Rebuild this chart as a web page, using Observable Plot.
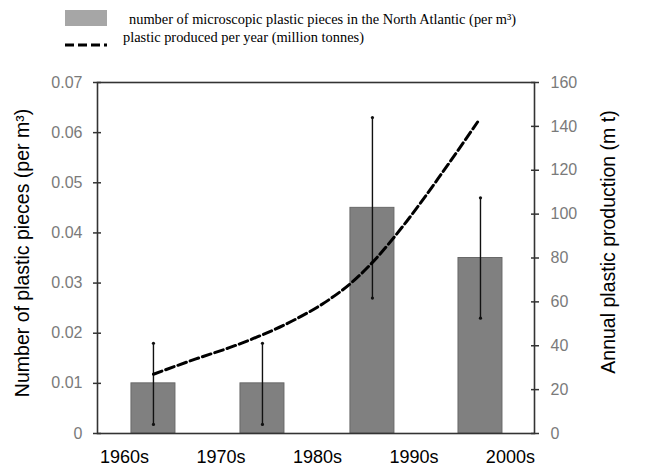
<!DOCTYPE html>
<html>
<head>
<meta charset="utf-8">
<script src="https://cdn.jsdelivr.net/npm/d3@7"></script>
<script src="https://cdn.jsdelivr.net/npm/@observablehq/plot@0.6"></script>
<style>
  html, body { margin: 0; padding: 0; background: #fff; }
  #legend { display: block; }
</style>
</head>
<body>
<div id="root"></div>
<script>
// ---- data ----
const decades = ["1960s", "1970s", "1980s", "1990s", "2000s"];
const decadeYears = [1960, 1970, 1980, 1990, 2000];

// bars: microscopic plastic pieces per m3 (left axis)
const barYears = [1963.0, 1974.3, 1985.7, 1996.9];
const barValues = [0.010, 0.010, 0.045, 0.035];
const barLow = [0.0018, 0.0018, 0.027, 0.023];
const barHigh = [0.018, 0.018, 0.063, 0.047];

// dashed line: plastic produced per year, million tonnes (right axis)
const lineYears = [1963.0, 1967.4, 1970.8, 1974.3, 1977.7, 1981.2, 1983.6, 1985.7, 1989.3, 1992.8, 1996.6];
const lineValues = [27, 34, 39, 45, 52, 61, 69, 78, 97, 118, 142];

const leftTicks = [0, 0.01, 0.02, 0.03, 0.04, 0.05, 0.06, 0.07];
const rightTicks = [0, 20, 40, 60, 80, 100, 120, 140, 160];

const leftTitle = "Number of plastic pieces (per m³)";
const rightTitle = "Annual plastic production (m t)";
const legendBars = "number of microscopic plastic pieces in the North Atlantic (per m³)";
const legendLine = "plastic produced per year (million tonnes)";

// ---- build ----
const leftMax = 0.07, rightMax = 160;
const k = leftMax / rightMax;

const bars = barYears.map((year, i) => ({year, value: barValues[i], lo: barLow[i], hi: barHigh[i]}));
const line = lineYears.map((year, i) => ({year, value: lineValues[i]}));

const root = document.getElementById("root");

// legend (above the chart)
const ns = "http://www.w3.org/2000/svg";
const leg = document.createElementNS(ns, "svg");
leg.setAttribute("id", "legend");
leg.setAttribute("width", 646);
leg.setAttribute("height", 62);
leg.innerHTML = `
  <rect x="65" y="10" width="42" height="16" fill="#a6a6a6"></rect>
  <text x="129" y="23.5" font-family="Liberation Serif, Times New Roman, serif" font-size="14.4" fill="#000"></text>
  <line x1="65" x2="107" y1="45" y2="45" stroke="#000" stroke-width="3" stroke-dasharray="9,4"></line>
  <text x="123" y="41.5" font-family="Liberation Serif, Times New Roman, serif" font-size="14.4" fill="#000"></text>`;
const legTexts = leg.querySelectorAll("text");
legTexts[0].textContent = legendBars;
legTexts[1].textContent = legendLine;
root.appendChild(leg);

const rightTickPos = rightTicks.map(v => v * k);

const chart = Plot.plot({
  width: 646,
  height: 408,
  marginTop: 20,
  marginBottom: 37,
  marginLeft: 97,
  marginRight: 112,
  style: {fontFamily: "Liberation Sans, Arial, sans-serif", background: "#fff"},
  x: {type: "linear", domain: [1957.2, 2002.5]},
  y: {domain: [0, leftMax]},
  marks: [
    Plot.rect(bars, {x1: d => d.year - 2.28, x2: d => d.year + 2.28, y1: 0, y2: "value", fill: "#808080", stroke: "#686868", strokeWidth: 1}),
    Plot.ruleX(bars, {x: "year", y1: "lo", y2: "hi", stroke: "#111", strokeWidth: 1.4}),
    Plot.dot(bars, {x: "year", y: "lo", r: 1.6, fill: "#111"}),
    Plot.dot(bars, {x: "year", y: "hi", r: 1.6, fill: "#111"}),
    Plot.line(line, {x: "year", y: d => d.value * k, curve: "monotone-x", stroke: "#000", strokeWidth: 3, strokeDasharray: "9,4"}),
    Plot.frame({stroke: "#333", strokeWidth: 1.6}),
    // left axis: crossing tick marks, then labels
    Plot.axisY({anchor: "left", ticks: leftTicks, tickSize: 8, dx: 4, stroke: "#333", strokeWidth: 1.5, tickFormat: () => "", label: null}),
    Plot.axisY({anchor: "left", ticks: leftTicks, tickSize: 0, tickPadding: 15, fontSize: 16, color: "#7a7a7a", label: null,
      tickFormat: d => d === 0 ? "0" : String(+d.toFixed(2))}),
    // right axis
    Plot.axisY({anchor: "right", ticks: rightTickPos, tickSize: 8, dx: -4, stroke: "#333", strokeWidth: 1.5, tickFormat: () => "", label: null}),
    Plot.axisY({anchor: "right", ticks: rightTickPos, tickSize: 0, tickPadding: 16, fontSize: 16, color: "#7a7a7a", label: null,
      tickFormat: d => String(Math.round(d / k))}),
    // x axis labels
    Plot.axisX({ticks: decadeYears, tickSize: 0, tickPadding: 17, fontSize: 18, color: "#000",
      tickFormat: d => decades[decadeYears.indexOf(d)], label: null}),
    // axis titles
    Plot.text([leftTitle], {text: d => d, frameAnchor: "left", textAnchor: "middle", dx: -75, dy: -5, rotate: -90, fontSize: 19.5, fill: "#000"}),
    Plot.text([rightTitle], {text: d => d, frameAnchor: "right", textAnchor: "middle", dx: 74, dy: -16, rotate: -90, fontSize: 19.5, fill: "#000"})
  ]
});
root.appendChild(chart);
</script>
</body>
</html>
